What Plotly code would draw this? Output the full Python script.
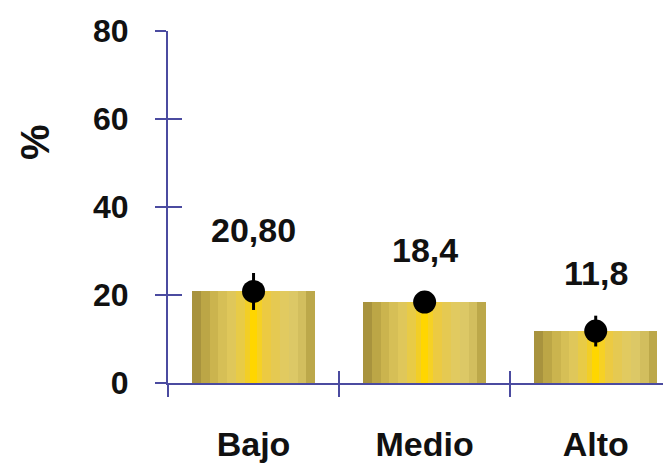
import plotly.graph_objects as go

categories = ["Bajo", "Medio", "Alto"]
values = [20.8, 18.4, 11.8]
errors = [4.2, 2.0, 3.5]
value_labels = ["20,80", "18,4", "11,8"]
y_ticks = [0, 20, 40, 60, 80]

FONT = "Liberation Sans, Arial, sans-serif"
AX = "#4b4ba0"
TXT = "#111111"

fig = go.Figure()

W = 0.72
# vertical slices imitating the golden horizontal gradient, left edge -> right edge
slice_colors = ["#a8933e", "#bca646", "#cbb44e", "#d6bf56", "#dfc75a", "#e8cb46", "#f2ce26",
                "#f6d124", "#ecca42", "#e5c952", "#e1ca60", "#dcc866", "#d2be5e", "#bca84a"]
n = len(slice_colors)
sw = W / n
for i, col in enumerate(slice_colors):
    fig.add_trace(go.Bar(
        x=categories, y=values,
        offset=-W / 2 + i * sw, width=sw * 1.02,
        marker=dict(color=col, line=dict(width=0)),
        showlegend=False, hoverinfo="skip",
    ))
# bright centre stripe
fig.add_trace(go.Bar(
    x=categories, y=values, offset=-0.02, width=0.04,
    marker=dict(color="#ffd600", line=dict(width=0)),
    showlegend=False, hoverinfo="skip",
))

fig.add_trace(go.Scatter(
    x=categories, y=values, mode="markers",
    marker=dict(color="black", size=23),
    error_y=dict(type="data", array=errors, color="black", thickness=3, width=0),
    showlegend=False,
))

# empty trace so the overlaid tick-only axes get drawn
fig.add_trace(go.Scatter(x=[None], y=[None], xaxis="x2", yaxis="y2",
                         mode="markers", showlegend=False, hoverinfo="skip"))

for c, v, e, t in zip(categories, values, errors, value_labels):
    fig.add_annotation(x=c, y=v + e, text=t, showarrow=False, yanchor="bottom",
                       yshift=22, font=dict(family=FONT, size=34, color=TXT, weight="bold"))

fig.add_annotation(x=0, xref="paper", y=0.685, yref="paper", yanchor="middle",
                   xanchor="center", text="%", textangle=-90,
                   showarrow=False, xshift=-133,
                   font=dict(family=FONT, size=40, color=TXT, weight="bold"))

fig.update_layout(
    width=663, height=456,
    margin=dict(l=160, r=0, t=23, b=81),
    paper_bgcolor="white", plot_bgcolor="white",
    barmode="overlay", bargap=0,
    font=dict(family=FONT, color=TXT),
    xaxis=dict(
        type="category", categoryarray=categories, range=[-0.5, 2.44],
        showline=True, linecolor=AX, linewidth=2, showgrid=False, zeroline=False,
        ticks="outside", tickson="boundaries", ticklen=12, tickwidth=2, tickcolor=AX,
        tickfont=dict(family=FONT, size=34, color=TXT, weight="bold"), ticklabelstandoff=30,
    ),
    yaxis=dict(
        range=[0, 80], tickvals=y_ticks,
        showline=True, linecolor=AX, linewidth=2, showgrid=False, zeroline=False,
        ticks="outside", ticklen=11, tickwidth=2, tickcolor=AX,
        tickfont=dict(family=FONT, size=32, color=TXT, weight="bold"), ticklabelstandoff=20,
    ),
    xaxis2=dict(
        overlaying="x", anchor="y", range=[-0.5, 2.44], tickvals=[-0.5, 0.5, 1.5, 2.5],
        ticks="inside", ticklen=12, tickwidth=2, tickcolor=AX, showticklabels=False,
        showline=False, showgrid=False, zeroline=False,
    ),
    yaxis2=dict(
        overlaying="y", anchor="x", range=[0, 80], tickvals=y_ticks,
        ticks="inside", ticklen=14, tickwidth=2, tickcolor=AX, showticklabels=False,
        showline=False, showgrid=False, zeroline=False,
    ),
)

fig.write_html("out.html")
